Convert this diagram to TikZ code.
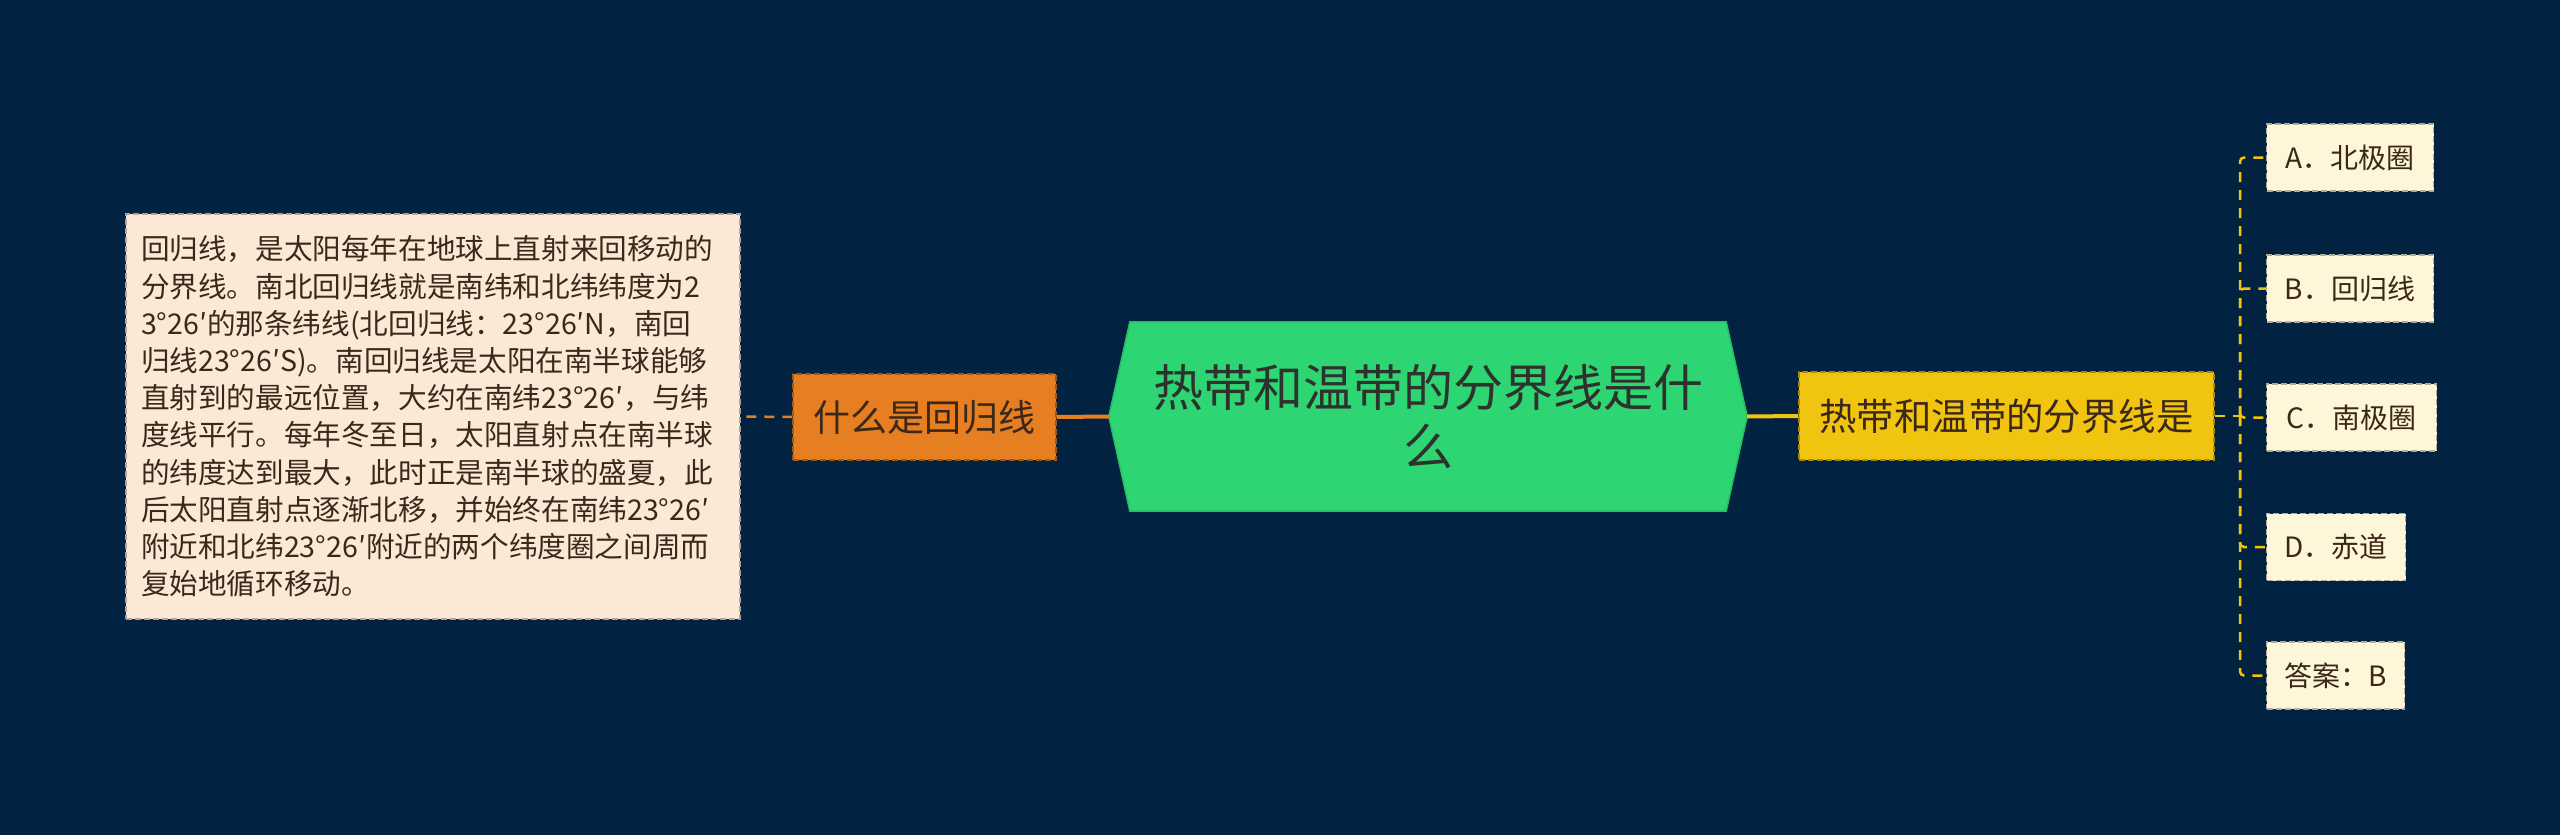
\documentclass[tikz,border=0pt]{standalone}
\usepackage{fontspec}
\setmainfont{Noto Sans CJK SC}
\definecolor{bg}{RGB}{1,34,64}
\definecolor{hexfill}{RGB}{46,213,115}
\definecolor{hexline}{RGB}{38,190,100}
\definecolor{orng}{RGB}{230,126,34}
\definecolor{ylw}{RGB}{241,196,15}
\definecolor{peach}{RGB}{252,232,214}
\definecolor{cream}{RGB}{253,246,216}
\definecolor{ink}{RGB}{60,40,25}
\definecolor{hexink}{RGB}{45,50,45}
\tikzset{
  leafbox/.style={draw=#1!70!black, dashed, dash pattern=on 6pt off 3pt, line width=1.2pt, inner sep=0pt, text=ink},
  optbox/.style={leafbox=cream, fill=cream, minimum height=67pt, anchor=west, font=\fontsize{28}{34}\selectfont},
  thickcon/.style={line width=4pt},
  dashcon/.style={line width=2.5pt, dash pattern=on 10pt off 8pt},
}
\begin{document}
\begin{tikzpicture}[x=1pt,y=-1pt]
\useasboundingbox (0,0) rectangle (2560,835);
\fill[bg] (0,0) rectangle (2560,835);
% left text box
\node[leafbox=peach, fill=peach, minimum width=614pt, minimum height=405pt, text width=584pt, align=left, font=\fontsize{28.6}{37.2}\selectfont] (lt) at (433,416.5) {回归线，是太阳每年在地球上直射来回移动的\\分界线。南北回归线就是南纬和北纬纬度为2\\3°26′的那条纬线(北回归线：23°26′N，南回\\归线23°26′S)。南回归线是太阳在南半球能够\\直射到的最远位置，大约在南纬23°26′，与纬\\度线平行。每年冬至日，太阳直射点在南半球\\的纬度达到最大，此时正是南半球的盛夏，此\\后太阳直射点逐渐北移，并始终在南纬23°26′\\附近和北纬23°26′附近的两个纬度圈之间周而\\复始地循环移动。};
% orange node
\node[leafbox=orng, fill=orng, minimum width=263pt, minimum height=86pt, font=\fontsize{37}{42}\selectfont] (q) at (924.5,417) {什么是回归线};
% center hexagon
\node[minimum width=638pt, minimum height=189pt, inner sep=0pt] (c) at (1428,416.5) {};
\filldraw[fill=hexfill, draw=hexline, line width=1.5pt] (c.west) -- ([xshift=21pt]c.north west) -- ([xshift=-21pt]c.north east) -- (c.east) -- ([xshift=-21pt]c.south east) -- ([xshift=21pt]c.south west) -- cycle;
\node[align=center, text=hexink, font=\fontsize{50}{59}\selectfont] (ct) at (c.center) {热带和温带的分界线是什\\么};
% yellow node
\node[leafbox=ylw, fill=ylw, minimum width=415pt, minimum height=88pt, font=\fontsize{37.4}{42}\selectfont] (y) at (2006.5,416) {热带和温带的分界线是};
% option boxes
\node[optbox, minimum width=167pt] (a) at (2266,157.5) {A．北极圈};
\node[optbox, minimum width=167pt] (b) at (2266,288.5) {B．回归线};
\node[optbox, minimum width=170pt] (cc) at (2266,417.5) {C．南极圈};
\node[optbox, minimum width=139pt] (d) at (2266,547) {D．赤道};
\node[optbox, minimum width=138pt] (e) at (2266,675.5) {答案：B};
% connectors
\draw[orng, thickcon] (q.east) -- (c.west);
\draw[ylw, thickcon] (c.east) -- (y.west);
\draw[orng, dashcon] (q.west) -- (lt.east);
\coordinate (j) at (2240,416);
\draw[ylw, dashcon] (y.east) -- (j);
\foreach \t in {a,b,cc,d,e}{
  \draw[ylw, line width=2.5pt, dash pattern=on 10pt off 8pt, rounded corners=4pt] (j) |- (\t.west);
}
\end{tikzpicture}
\end{document}
